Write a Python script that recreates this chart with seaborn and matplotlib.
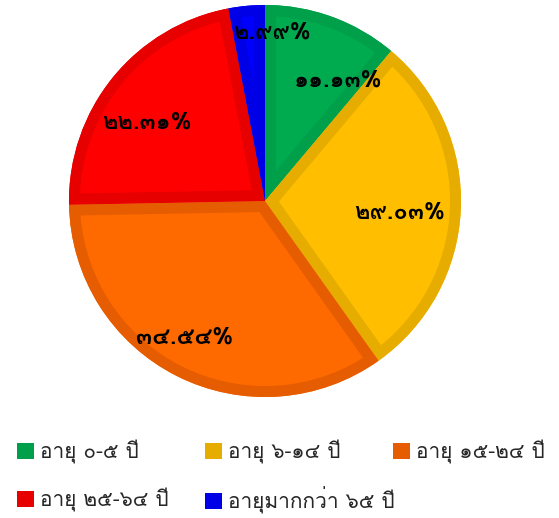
import matplotlib
matplotlib.use("Agg")
import matplotlib.pyplot as plt
from matplotlib.patches import Patch, Wedge
from matplotlib.transforms import offset_copy
import seaborn as sns

labels = ["อายุ ๐-๕ ปี", "อายุ ๖-๑๔ ปี", "อายุ ๑๕-๒๔ ปี", "อายุ ๒๕-๖๔ ปี", "อายุมากกว่า ๖๕ ปี"]
values = [11.13, 29.03, 34.54, 22.31, 2.99]
fill_colors = ["#00AA4F", "#FFBF00", "#FF6A00", "#FF0000", "#0000FF"]
edge_colors = ["#009F4A", "#E6AC00", "#E65C00", "#E60000", "#0000E6"]

# small pixel nudges so the labels sit where the original renderer put them
label_nudge = [(25, -12), (-6, -5), (-17, -10), (-8, -10), (20, 28)]

sns.set_theme(style="white")
plt.rcParams["font.family"] = ["Loma", "DejaVu Sans"]

thai_digits = str.maketrans("0123456789", "๐๑๒๓๔๕๖๗๘๙")


def thai_pct(p):
    return f"{p:.2f}%".translate(thai_digits)


fig = plt.figure(figsize=(5.59, 5.18), dpi=100)
ax = fig.add_axes([0.1234, 0.2336, 0.7013, 0.7568])

wedges, texts, autotexts = ax.pie(
    values, colors=fill_colors, startangle=90, counterclock=False,
    autopct=thai_pct, pctdistance=0.72, radius=1,
    wedgeprops=dict(linewidth=0),
    textprops=dict(fontsize=17, fontweight="bold", color="black"),
)
# darker border, drawn only inside each slice
for w, ec in zip(wedges, edge_colors):
    border = Wedge(w.center, w.r, w.theta1, w.theta2, facecolor="none",
                   edgecolor=ec, linewidth=15.8, joinstyle="miter",
                   transform=ax.transData, zorder=w.get_zorder())
    ax.add_patch(border)
    border.set_clip_path(w)
for t, (dx, dy) in zip(autotexts, label_nudge):
    t.set_transform(offset_copy(t.get_transform(), fig=fig, x=dx, y=dy, units="dots"))
    t.set_zorder(5)
ax.set_xlim(-1, 1)
ax.set_ylim(-1, 1)
ax.axis("off")

# legend laid out on a fixed grid: 3 entries per row
for i, (lab, c) in enumerate(zip(labels, edge_colors)):
    col, row = i % 3, i // 3
    fig.legend([Patch(facecolor=c, edgecolor="none")], [lab],
               loc="center left",
               bbox_to_anchor=((17 + 188 * col) / 559, 1 - (452 + 48 * row) / 518),
               frameon=False, fontsize=15, handlelength=0.8, handleheight=0.8,
               handletextpad=0.3, borderpad=0, borderaxespad=0)

fig.savefig("out.png", dpi=100)
